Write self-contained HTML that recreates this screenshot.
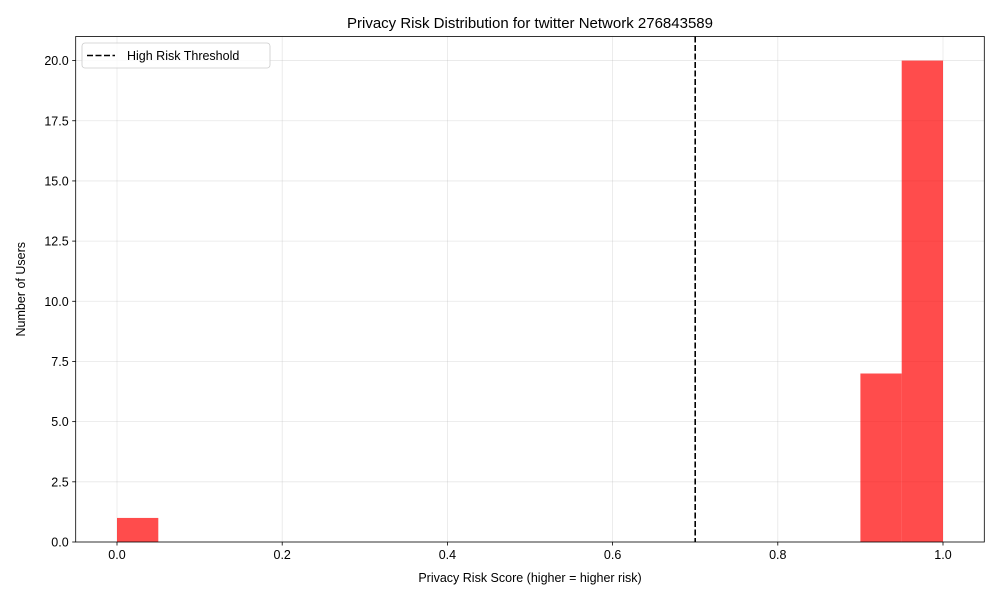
<!DOCTYPE html>
<html><head><meta charset="utf-8"><style>
body{margin:0;background:#fff;}
svg text{font-family:"Liberation Sans","DejaVu Sans",sans-serif;}
</style></head><body>
<svg id="chart" width="1000" height="600">
<rect width="1000" height="600" fill="#fff"/>
<g id="grid"></g><g id="bars"></g><g id="axes"></g>
</svg>
<script>
const binEdgesStart = [0,0.05,0.1,0.15,0.2,0.25,0.3,0.35,0.4,0.45,0.5,0.55,0.6,0.65,0.7,0.75,0.8,0.85,0.9,0.95];
const counts = [1,0,0,0,0,0,0,0,0,0,0,0,0,0,0,0,0,0,7,20];
const binWidth = 0.05;
const xTicks = [0,0.2,0.4,0.6,0.8,1.0];
const xTickLabels = ["0.0","0.2","0.4","0.6","0.8","1.0"];
const yTicks = [0,2.5,5,7.5,10,12.5,15,17.5,20];
const yTickLabels = ["0.0","2.5","5.0","7.5","10.0","12.5","15.0","17.5","20.0"];
const threshold = 0.7;

const L=75.7,R=984.3,T=36.5,B=542;
const xMin=-0.05,xMax=1.05,yMin=0,yMax=21;
const sx=v=>L+(v-xMin)/(xMax-xMin)*(R-L);
const sy=v=>B-(v-yMin)/(yMax-yMin)*(B-T);
const NS="http://www.w3.org/2000/svg";
function mk(tag,attrs,parent,text){const e=document.createElementNS(NS,tag);for(const k in attrs)e.setAttribute(k,attrs[k]);if(text!==undefined)e.textContent=text;parent.appendChild(e);return e;}
const grid=document.getElementById('grid'),bars=document.getElementById('bars'),axes=document.getElementById('axes');

xTicks.forEach((t,i)=>{
 const g=mk('line',{x1:sx(t),x2:sx(t),y1:T,y2:B,stroke:'#b0b0b0','stroke-opacity':0.3,'stroke-width':0.8},grid);
 
 
 mk('line',{x1:sx(t),x2:sx(t),y1:B,y2:B+3.5,stroke:'#000','stroke-width':0.8},axes);
 const tx=mk('text',{x:sx(t),y:B+17,'text-anchor':'middle','font-size':12.5,fill:'#000'},axes,xTickLabels[i]);
 
 
});
yTicks.forEach((t,i)=>{
 const g=mk('line',{x1:L,x2:R,y1:sy(t),y2:sy(t),stroke:'#b0b0b0','stroke-opacity':0.3,'stroke-width':0.8},grid);
 
 
 mk('line',{x1:L-3.5,x2:L,y1:sy(t),y2:sy(t),stroke:'#000','stroke-width':0.8},axes);
 const tx=mk('text',{x:L-7,y:sy(t)+4.5,'text-anchor':'end','font-size':12.5,fill:'#000'},axes,yTickLabels[i]);
 
 
});
binEdgesStart.forEach((s,i)=>{
 if(counts[i]<=0)return;
 const r=mk('rect',{x:sx(s),y:sy(counts[i]),width:sx(s+binWidth)-sx(s),height:sy(0)-sy(counts[i]),fill:'#ff0000','fill-opacity':0.7},bars);
 
 
});
const th=mk('line',{x1:sx(threshold),x2:sx(threshold),y1:T,y2:B,stroke:'#000','stroke-width':1.6,'stroke-dasharray':'6,2.5'},axes);


const fr=mk('rect',{x:L,y:T,width:R-L,height:B-T,fill:'none',stroke:'#000','stroke-width':0.8},axes);


const title=mk('text',{x:(L+R)/2,y:28,'text-anchor':'middle','font-size':15,fill:'#000'},axes,'Privacy Risk Distribution for twitter Network 276843589');


const xl=mk('text',{x:(L+R)/2,y:582,'text-anchor':'middle','font-size':12.5,fill:'#000'},axes,'Privacy Risk Score (higher = higher risk)');


const yl=mk('text',{x:25,y:(T+B)/2,'text-anchor':'middle','font-size':12.5,fill:'#000',transform:`rotate(-90 25 ${(T+B)/2})`},axes,'Number of Users');


const lg=mk('g',{},axes);


mk('rect',{x:82,y:43,width:188,height:25,rx:3,fill:'#fff','fill-opacity':0.8,stroke:'#ccc','stroke-width':0.8},lg);
mk('line',{x1:87,x2:115,y1:55.5,y2:55.5,stroke:'#000','stroke-width':1.6,'stroke-dasharray':'6,2.5'},lg);
const le=mk('text',{x:127,y:60,'font-size':12.5,fill:'#000'},lg,'High Risk Threshold');


</script>
</body></html>
